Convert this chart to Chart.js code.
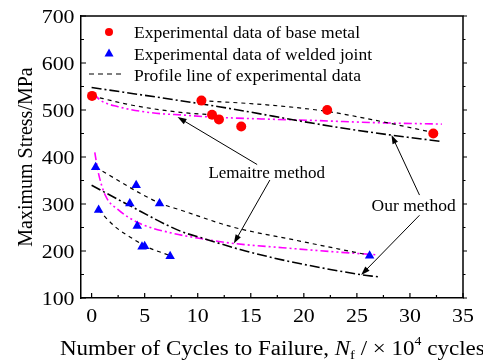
<!DOCTYPE html>
<html>
<head>
<meta charset="utf-8">
<script src="https://cdn.jsdelivr.net/npm/chart.js@4.4.0/dist/chart.umd.min.js"></script>
<style>
  html, body { margin: 0; padding: 0; background: #fff; }
</style>
</head>
<body>
<canvas id="fatigue-chart" width="483" height="363"></canvas>
<script>
// Experimental points (x: cycles to failure / 10^4, y: maximum stress / MPa)
var baseMetalX = [0.04, 10.35, 11.35, 12.0, 14.1, 22.2, 32.2];
var baseMetalY = [530, 520, 490, 480, 465, 500, 450];
var weldedX = [0.38, 0.66, 3.6, 4.2, 4.3, 4.75, 5.0, 6.4, 7.4, 26.2];
var weldedY = [378, 287, 301, 340, 253, 209, 210, 301, 189, 190];

// Profile lines of experimental data (dashed)
var profBaseUpX = [10.35, 16.5, 22.2, 27.2, 32.2];
var profBaseUpY = [520, 511, 497, 476, 452];
var profBaseLowX = [0.04, 3.2, 5.7, 8.8, 11.35];
var profBaseLowY = [530, 513, 503, 494, 490];
var profWeldUpX = [0.38, 6.4, 8.4, 13.3, 19.0, 26.2];
var profWeldUpY = [378, 302, 287, 251, 224, 191];
var profWeldLowX = [0.66, 2.2, 4.1, 5.0, 7.4];
var profWeldLowY = [287, 252, 223, 211, 190];

// Our method (black dash-dot)
var ourBaseX = [0, 12, 22.4, 28.1, 33];
var ourBaseY = [548, 507, 466, 447, 433];
var ourWeldX = [0, 3.3, 8.4, 10.5, 14, 17, 19, 25.3, 27];
var ourWeldY = [340, 300, 242, 227, 203, 186, 176, 150, 145];

// Lemaitre method (magenta dash-dot-dot)
var lemBaseX = [0.2, 0.8, 2.5, 5.7, 8.8, 11.3, 16, 20.6, 26.8, 33];
var lemBaseY = [535, 521, 507, 494, 489, 485, 481, 478, 473, 470];
var lemWeldX = [0.3, 0.6, 1.3, 2.5, 4.4, 7.2, 10.4, 13.4, 18, 22.4, 26.8];
var lemWeldY = [410, 370, 318, 288, 260, 240, 226, 216, 207, 199, 192];

var xTickValues = [0, 5, 10, 15, 20, 25, 30, 35];
var xMinorValues = [2.5, 7.5, 12.5, 17.5, 22.5, 27.5, 32.5];
var yMinorValues = [150, 250, 350, 450, 550, 650];

var legendLabels = ["Experimental data of base metal", "Experimental data of welded joint", "Profile line of experimental data"];
var yTitle = "Maximum Stress/MPa";
var lemaitreLabel = "Lemaitre method";
var ourLabel = "Our method";

// annotation text anchors and arrows (data units)
var lemaitreTextPos = [16.5, 365];
var ourTextPos = [30.35, 294];
var lemaitreArrows = [[15.6, 384, 8.1, 485], [16.8, 351, 13.4, 216]];
var ourArrows = [[30.9, 319, 28.26, 447], [30.9, 276, 25.4, 149]];

var serif = "'Liberation Serif', 'Times New Roman', serif";

function pts(xs, ys) {
    return xs.map(function (x, i) { return { x: x, y: ys[i] }; });
}

var DASH = [4, 4];
var DASHDOT = [10, 3, 2, 3];
var DASHDOTDOT = [8, 3, 2, 3, 2, 3];

function curve(xs, ys, color, dash, width) {
    return {
        data: pts(xs, ys),
        showLine: true,
        borderColor: color,
        borderWidth: width,
        borderDash: dash,
        pointRadius: 0,
        cubicInterpolationMode: 'monotone',
        fill: false
    };
}

var chartData = {
    datasets: [
        { data: pts(baseMetalX, baseMetalY), pointStyle: 'circle', pointRadius: 5, backgroundColor: '#ff0000', borderColor: '#ff0000', borderWidth: 0, showLine: false },
        { data: pts(weldedX, weldedY), pointStyle: 'triangle', pointRadius: 5.5, backgroundColor: '#0000ff', borderColor: '#0000ff', borderWidth: 0, showLine: false },
        curve(profBaseUpX, profBaseUpY, '#000', DASH, 1.2),
        curve(profBaseLowX, profBaseLowY, '#000', DASH, 1.2),
        curve(profWeldUpX, profWeldUpY, '#000', DASH, 1.2),
        curve(profWeldLowX, profWeldLowY, '#000', DASH, 1.2),
        curve(ourBaseX, ourBaseY, '#000', DASHDOT, 1.6),
        curve(ourWeldX, ourWeldY, '#000', DASHDOT, 1.6),
        curve(lemBaseX, lemBaseY, '#ff00ff', DASHDOTDOT, 1.6),
        curve(lemWeldX, lemWeldY, '#ff00ff', DASHDOTDOT, 1.6)
    ]
};

// text squeezed/stretched horizontally by sx, anchored by align
function wideText(ctx, s, x, y, font, sx, align) {
    ctx.save();
    ctx.font = font;
    var w = ctx.measureText(s).width * sx;
    var left = align === 'right' ? x - w : (align === 'center' ? x - w / 2 : x);
    ctx.translate(left, y);
    ctx.scale(sx, 1);
    ctx.textAlign = 'left';
    ctx.fillText(s, 0, 0);
    ctx.restore();
    return w;
}

function arrow(ctx, chart, a) {
    var sx = chart.scales.x, sy = chart.scales.y;
    var x1 = sx.getPixelForValue(a[0]), y1 = sy.getPixelForValue(a[1]);
    var x2 = sx.getPixelForValue(a[2]), y2 = sy.getPixelForValue(a[3]);
    var ang = Math.atan2(y2 - y1, x2 - x1);
    ctx.save();
    ctx.strokeStyle = '#000';
    ctx.lineWidth = 1;
    ctx.beginPath();
    ctx.moveTo(x1, y1);
    ctx.lineTo(x2 - 6 * Math.cos(ang), y2 - 6 * Math.sin(ang));
    ctx.stroke();
    ctx.fillStyle = '#000';
    ctx.beginPath();
    ctx.moveTo(x2, y2);
    ctx.lineTo(x2 - 9 * Math.cos(ang) + 3 * Math.sin(ang), y2 - 9 * Math.sin(ang) - 3 * Math.cos(ang));
    ctx.lineTo(x2 - 9 * Math.cos(ang) - 3 * Math.sin(ang), y2 - 9 * Math.sin(ang) + 3 * Math.cos(ang));
    ctx.closePath();
    ctx.fill();
    ctx.restore();
}

var decorations = {
    id: 'decorations',
    afterDraw: function (chart) {
        var ctx = chart.ctx, area = chart.chartArea;
        var sx = chart.scales.x, sy = chart.scales.y;
        ctx.save();

        // frame (top and right)
        ctx.strokeStyle = '#000';
        ctx.lineWidth = 1.5;
        ctx.beginPath();
        ctx.moveTo(area.left, area.top);
        ctx.lineTo(area.right, area.top);
        ctx.lineTo(area.right, area.bottom);
        ctx.stroke();

        // tick marks
        ctx.lineWidth = 1.2;
        ctx.beginPath();
        xTickValues.forEach(function (v) {
            var p = sx.getPixelForValue(v);
            ctx.moveTo(p, area.bottom); ctx.lineTo(p, area.bottom - 5);
        });
        xMinorValues.forEach(function (v) {
            var p = sx.getPixelForValue(v);
            ctx.moveTo(p, area.bottom); ctx.lineTo(p, area.bottom - 3);
        });
        sy.ticks.forEach(function (t) {
            var p = sy.getPixelForValue(t.value);
            ctx.moveTo(area.left, p); ctx.lineTo(area.left + 5, p);
            ctx.moveTo(area.right, p); ctx.lineTo(area.right + 4, p);
        });
        yMinorValues.forEach(function (v) {
            var p = sy.getPixelForValue(v);
            ctx.moveTo(area.left, p); ctx.lineTo(area.left + 3, p);
            ctx.moveTo(area.right, p); ctx.lineTo(area.right + 2.5, p);
        });
        ctx.stroke();

        // tick labels
        ctx.fillStyle = '#000';
        ctx.textBaseline = 'alphabetic';
        var tickFont = '19px ' + serif;
        xTickValues.forEach(function (v) {
            wideText(ctx, String(v), sx.getPixelForValue(v), area.bottom + 23.5, tickFont, 1.15, 'center');
        });
        sy.ticks.forEach(function (t) {
            wideText(ctx, String(t.value), area.left - 6.5, sy.getPixelForValue(t.value) + 7, tickFont, 1.15, 'right');
        });

        // legend
        var lx = area.left + 28, tx = area.left + 53, ly = area.top + 16;
        var legendWidths = [226, 238, 227];
        ctx.fillStyle = '#ff0000';
        ctx.beginPath(); ctx.arc(lx, ly, 4, 0, Math.PI * 2); ctx.fill();
        ctx.fillStyle = '#0000ff';
        ctx.beginPath();
        ctx.moveTo(lx, ly + 21 - 4.5); ctx.lineTo(lx + 4.5, ly + 21 + 3.5); ctx.lineTo(lx - 4.5, ly + 21 + 3.5);
        ctx.closePath(); ctx.fill();
        ctx.strokeStyle = '#000';
        ctx.lineWidth = 1.2;
        ctx.setLineDash([5, 4]);
        ctx.beginPath(); ctx.moveTo(lx - 20, ly + 42); ctx.lineTo(lx + 15, ly + 42); ctx.stroke();
        ctx.setLineDash([]);
        ctx.fillStyle = '#000';
        ctx.font = '17px ' + serif;
        legendLabels.forEach(function (s, i) {
            var k = legendWidths[i] / ctx.measureText(s).width;
            wideText(ctx, s, tx, ly + 21.5 * i + 6, '17px ' + serif, k, 'left');
            ctx.font = '17px ' + serif;
        });

        // annotations
        ctx.textBaseline = 'middle';
        wideText(ctx, lemaitreLabel, sx.getPixelForValue(lemaitreTextPos[0]), sy.getPixelForValue(lemaitreTextPos[1]), '17px ' + serif, 1.0, 'center');
        wideText(ctx, ourLabel, sx.getPixelForValue(ourTextPos[0]), sy.getPixelForValue(ourTextPos[1]), '17px ' + serif, 1.03, 'center');
        lemaitreArrows.concat(ourArrows).forEach(function (a) { arrow(ctx, chart, a); });

        // x axis title with italic N, subscript f, superscript 4
        var pieces = [
            { t: 'Number of Cycles to Failure, ', f: '20px ' + serif, dy: 0 },
            { t: 'N', f: 'italic 20px ' + serif, dy: 0 },
            { t: 'f', f: '13px ' + serif, dy: 4 },
            { t: ' / \u00d7 10', f: '20px ' + serif, dy: 0 },
            { t: '4', f: '12px ' + serif, dy: -10 },
            { t: ' cycles', f: '20px ' + serif, dy: 0 }
        ];
        var x = 60, base = 355;
        ctx.textBaseline = 'alphabetic';
        pieces.forEach(function (p) {
            x += wideText(ctx, p.t, x, base + p.dy, p.f, 1.15, 'left');
        });
        ctx.restore();
    }
};

var chartOptions = {
    responsive: false,
    animation: false,
    layout: { padding: { top: 16, right: 20, left: 0, bottom: 0 } },
    plugins: { legend: { display: false }, tooltip: { enabled: false } },
    scales: {
        x: {
            type: 'linear',
            min: -1,
            max: 35,
            grid: { display: false },
            border: { display: true, color: '#000', width: 1.5 },
            ticks: { display: false },
            afterBuildTicks: function (s) { s.ticks = xTickValues.map(function (v) { return { value: v }; }); },
            afterFit: function (s) { s.height = 65; }
        },
        y: {
            type: 'linear',
            min: 100,
            max: 700,
            grid: { display: false },
            border: { display: true, color: '#000', width: 1.5 },
            ticks: { display: false, stepSize: 100 },
            title: { display: true, text: yTitle, color: '#000', font: { family: serif, size: 20 }, padding: { top: 15, bottom: 0 } },
            afterFit: function (s) { s.width = 81; }
        }
    }
};

var config = {
    type: 'scatter',
    data: chartData,
    options: chartOptions,
    plugins: [decorations]
};

var fatigueChart = new Chart(document.getElementById('fatigue-chart'), config);
</script>
</body>
</html>
